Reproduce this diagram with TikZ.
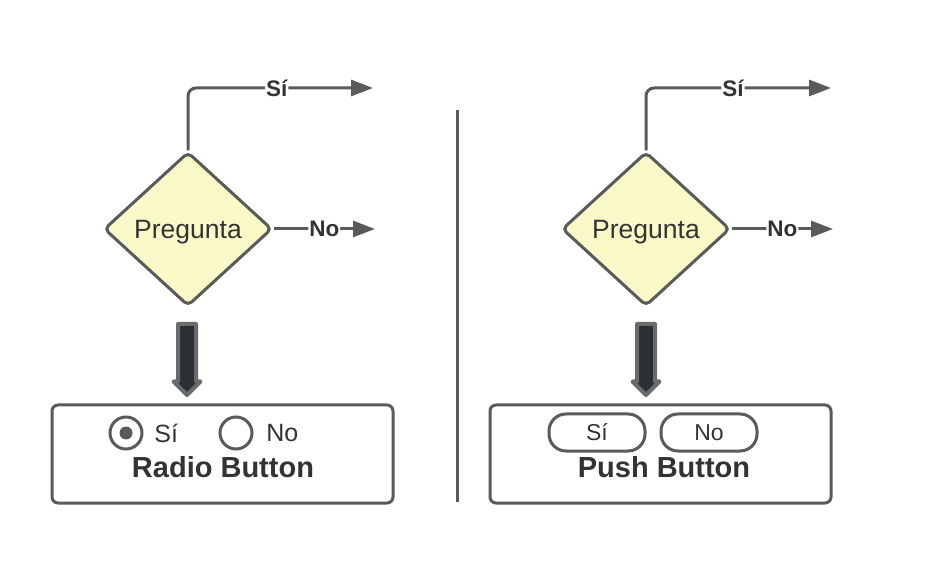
\documentclass[tikz,border=0pt]{standalone}
\usepackage{fontspec}
\setmainfont{Liberation Sans}
\usetikzlibrary{arrows.meta, positioning, shapes.geometric, shapes.arrows}
\definecolor{linegray}{HTML}{5A5A5A}
\definecolor{qfill}{HTML}{FAFAC8}
\definecolor{txtgray}{HTML}{333333}
\definecolor{darkarrow}{HTML}{2B2F36}

\begin{document}
\begin{tikzpicture}[
    x=1pt, y=-1pt,
    line width=3pt,
    question/.style={
        diamond,
        draw=linegray,
        fill=qfill,
        minimum width=168pt,
        minimum height=154pt,
        rounded corners=5pt,
        inner sep=0pt,
        text height=19pt,
        text depth=0pt,
        font=\fontsize{26.5}{30}\selectfont,
        text=txtgray
    },
    flow/.style={draw=linegray, -{Triangle[length=22pt, width=16pt]}, rounded corners=8pt},
    branch_label/.style={fill=white, inner sep=1pt, font=\fontsize{22.5}{26}\selectfont\bfseries, text=txtgray},
    widget/.style={draw=linegray, rounded corners=6pt, minimum width=341pt, minimum height=98pt},
    title_label/.style={font=\fontsize{29}{34}\selectfont\bfseries, text=txtgray},
    option_label/.style={font=\fontsize{25}{30}\selectfont, text=txtgray},
    radio/.style={circle, draw=linegray, minimum size=32pt, inner sep=0pt},
    pill/.style={draw=linegray, rounded corners=17pt, minimum width=96pt, minimum height=37pt,
        font=\fontsize{23}{28}\selectfont, text=txtgray},
    fat_arrow/.style={
        single arrow,
        draw=linegray!90,
        fill=darkarrow,
        line width=4pt,
        line join=round,
        rotate=-90,
        minimum height=71pt,
        inner sep=7pt,
        single arrow head extend=4.5pt
    }
]
    \useasboundingbox (0,0) rectangle (927,577);

    % LEFT: RADIO BUTTON
    \node[question] (q1) at (188,229) {Pregunta};
    \coordinate (yes1) at (373,88);
    \coordinate (no1) at (375,229);
    \draw[flow] (q1.north) |- node[branch_label, pos=0.74] {Sí} (yes1);
    \draw[flow] (q1.east) -- node[branch_label] {No} (no1);

    \node[widget] (w1) at (222.5,454) {};
    \node[fat_arrow] (a1) at (187,355) {};

    \node[radio] (r1) at (126,433) {};
    \node[circle, fill=linegray, minimum size=13pt, inner sep=0pt] (r1dot) at (r1.center) {};
    \node[option_label, right=6pt of r1] (r1txt) {Sí};
    \node[radio] (r2) at (236,433) {};
    \node[option_label, right=8pt of r2] (r2txt) {No};
    \node[title_label] (t1) at (223,467) {Radio Button};

    % SEPARATOR
    \coordinate (sep_top) at (457,110);
    \coordinate (sep_bot) at (457,502);
    \draw[linegray] (sep_top) -- (sep_bot);

    % RIGHT: PUSH BUTTON
    \node[question] (q2) at (646,229) {Pregunta};
    \coordinate (yes2) at (831,88);
    \coordinate (no2) at (833,229);
    \draw[flow] (q2.north) |- node[branch_label, pos=0.735] {Sí} (yes2);
    \draw[flow] (q2.east) -- node[branch_label] {No} (no2);

    \node[widget] (w2) at (660.5,454) {};
    \node[fat_arrow] (a2) at (646,355) {};

    \node[pill] (p1) at (597,432.5) {Sí};
    \node[pill] (p2) at (709,432.5) {No};
    \node[title_label] (t2) at (664,467) {Push Button};

\end{tikzpicture}
\end{document}
